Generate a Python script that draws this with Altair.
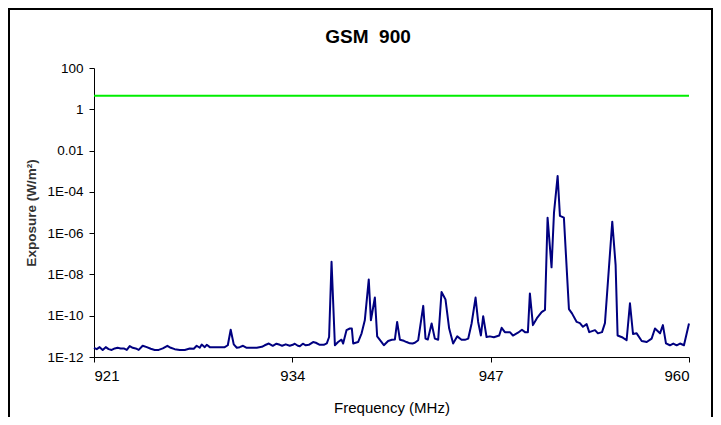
import altair as alt
import pandas as pd

# Spectrum (frequency in MHz, exposure in W/m^2)
freq = [
    921.00, 921.18, 921.37, 921.57, 921.77, 921.96, 922.16, 922.36, 922.55, 922.75,
    922.95, 923.15, 923.34, 923.54, 923.73, 923.93, 924.19, 924.46, 924.72, 924.98,
    925.24, 925.51, 925.81, 926.03, 926.29, 926.62, 926.95, 927.28, 927.54, 927.73,
    927.93, 928.06, 928.26, 928.39, 928.59, 928.92, 929.24, 929.57, 929.77, 929.96,
    930.16, 930.36, 930.55, 930.77, 931.01, 931.34, 931.67, 932.00, 932.19, 932.46,
    932.72, 932.96, 933.18, 933.33, 933.57, 933.83, 934.03, 934.16, 934.36, 934.49,
    934.69, 934.88, 935.08, 935.36, 935.54, 935.80, 936.06, 936.26, 936.41, 936.57,
    936.79, 937.00, 937.22, 937.33, 937.55, 937.77, 937.90, 937.99, 938.31, 938.54,
    938.75, 939.01, 939.15, 939.41, 939.56, 939.85, 940.00, 940.28, 940.52, 940.72,
    940.87, 941.05, 941.31, 941.49, 941.70, 941.88, 942.03, 942.25, 942.58, 942.73,
    942.88, 943.13, 943.34, 943.56, 943.78, 944.04, 944.28, 944.54, 944.81, 945.09,
    945.31, 945.53, 945.75, 946.01, 946.18, 946.36, 946.51, 946.73, 946.95, 947.21,
    947.56, 947.72, 947.93, 948.26, 948.46, 948.79, 949.05, 949.25, 949.44, 949.57,
    949.77, 950.03, 950.34, 950.56, 950.73, 950.99, 951.15, 951.39, 951.54, 951.80,
    952.13, 952.33, 952.64, 952.85, 953.05, 953.29, 953.46, 953.84, 954.03, 954.30,
    954.49, 954.97, 955.19, 955.32, 955.61, 955.91, 956.13, 956.33, 956.57, 956.90,
    957.23, 957.55, 957.77, 958.10, 958.29, 958.49, 958.75, 958.97, 959.19, 959.41,
    959.67, 960.00,
]
exposure = [
    2.8e-12, 2.4e-12, 3.0e-12, 2.2e-12, 3.0e-12, 2.4e-12, 2.2e-12, 2.6e-12, 2.8e-12, 2.6e-12,
    2.6e-12, 2.2e-12, 3.4e-12, 2.8e-12, 2.6e-12, 2.2e-12, 3.5e-12, 3.0e-12, 2.5e-12, 2.2e-12,
    2.2e-12, 2.6e-12, 3.5e-12, 2.8e-12, 2.4e-12, 2.2e-12, 2.2e-12, 2.6e-12, 2.5e-12, 3.5e-12,
    2.8e-12, 4.0e-12, 3.0e-12, 3.9e-12, 3.0e-12, 3.0e-12, 3.0e-12, 3.0e-12, 3.7e-12, 2.1e-11,
    4.1e-12, 2.8e-12, 3.0e-12, 3.5e-12, 2.8e-12, 2.8e-12, 2.8e-12, 3.1e-12, 3.7e-12, 4.5e-12,
    3.5e-12, 4.4e-12, 3.9e-12, 3.5e-12, 4.1e-12, 3.5e-12, 3.9e-12, 4.4e-12, 3.5e-12, 3.3e-12,
    4.4e-12, 3.7e-12, 3.9e-12, 5.3e-12, 4.9e-12, 3.9e-12, 3.9e-12, 4.6e-12, 9.3e-12, 4.1e-8,
    3.7e-12, 5.3e-12, 6.9e-12, 4.5e-12, 2.0e-11, 2.4e-11, 2.4e-11, 4.5e-12, 5.3e-12, 1.4e-11,
    6.0e-11, 5.7e-9, 6.0e-11, 7.6e-10, 1.0e-11, 5.3e-12, 3.7e-12, 6.0e-12, 6.8e-12, 7.0e-12,
    5.0e-11, 6.9e-12, 6.1e-12, 5.3e-12, 4.6e-12, 4.5e-12, 4.9e-12, 6.5e-12, 3.0e-10, 7.8e-12,
    7.0e-12, 4.2e-11, 7.8e-12, 6.9e-12, 1.4e-9, 6.1e-10, 2.4e-11, 4.5e-12, 1.0e-11, 6.9e-12,
    6.8e-12, 7.8e-12, 4.2e-11, 7.6e-10, 5.0e-11, 1.1e-11, 9.5e-11, 9.3e-12, 1.0e-11, 9.1e-12,
    1.1e-11, 2.6e-11, 1.6e-11, 1.6e-11, 1.1e-11, 1.5e-11, 2.1e-11, 1.6e-11, 1.6e-11, 1.2e-9,
    3.5e-11, 7.6e-11, 1.5e-10, 1.9e-10, 5.6e-6, 2.2e-8, 9.5e-6, 5.9e-4, 6.9e-6, 5.6e-6,
    2.1e-10, 1.3e-10, 5.0e-11, 4.4e-11, 2.9e-11, 3.9e-11, 1.6e-11, 2.0e-11, 1.4e-11, 1.6e-11,
    4.4e-11, 3.6e-6, 2.8e-8, 1.1e-11, 9.1e-12, 6.5e-12, 4.0e-10, 1.3e-11, 1.4e-11, 6.0e-12,
    5.3e-12, 7.8e-12, 2.4e-11, 1.4e-11, 3.5e-11, 4.6e-12, 3.7e-12, 4.5e-12, 3.7e-12, 4.5e-12,
    3.7e-12, 4.2e-11,
]

# Reference level line (W/m^2)
limit_freq = [921, 960]
limit_level = [4.5, 4.5]

chart_title = "GSM\u00a0\u00a0900"
x_title = "Frequency (MHz)"
y_title = "Exposure (W/m²)"
x_ticks = [921, 934, 947, 960]
y_ticks = [1e-12, 1e-10, 1e-8, 1e-6, 1e-4, 1e-2, 1, 100]
y_tick_labels = ["1E-12", "1E-10", "1E-08", "1E-06", "1E-04", "0.01", "1", "100"]

FONT = "Liberation Sans"

spec_df = pd.DataFrame({"freq": freq, "exposure": exposure})
limit_df = pd.DataFrame({"freq": limit_freq, "exposure": limit_level})

label_expr = (
    "[" + ",".join(f"'{s}'" for s in y_tick_labels) + "]"
    "[round((log(datum.value)/LN10 + 12)/2)]"
)

x_enc = alt.X(
    "freq:Q",
    scale=alt.Scale(domain=[921, 960], nice=False, zero=False),
    axis=alt.Axis(
        values=x_ticks, title=x_title, grid=False, format="d",
        labelFontSize=15, labelPadding=6, tickSize=5,
        titleFontSize=15, titleFontWeight="normal", titleY=55,
        titleBaseline="alphabetic",
    ),
)
y_enc = alt.Y(
    "exposure:Q",
    scale=alt.Scale(type="log", domain=[1e-12, 100], nice=False),
    axis=alt.Axis(
        values=y_ticks, labelExpr=label_expr, title=y_title, grid=False,
        labelFontSize=13.5, labelPadding=6, tickSize=5,
        titleFontSize=13.5, titleFontWeight="bold", titleColor="#333333",
        titleX=-63, titleBaseline="middle",
    ),
)

spectrum = alt.Chart(spec_df).mark_line(
    color="#000080", strokeWidth=2, strokeJoin="round"
).encode(x=x_enc, y=y_enc)

limit = alt.Chart(limit_df).mark_line(
    color="#00ee00", strokeWidth=2
).encode(x="freq:Q", y="exposure:Q")

frame = alt.Chart(pd.DataFrame({"k": [0]})).mark_rect(
    fillOpacity=0, stroke="black", strokeWidth=2, clip=False
).encode(
    x=alt.value(-85), x2=alt.value(618), y=alt.value(-59), y2=alt.value(360)
)

title_mark = alt.Chart(pd.DataFrame({"t": [chart_title]})).mark_text(
    fontSize=19, fontWeight="bold", font=FONT, color="black",
    align="center", baseline="alphabetic",
).encode(text="t:N", x=alt.value(274), y=alt.value(-25))

chart = alt.layer(frame, limit, spectrum, title_mark).properties(
    width=595,
    height=289,
    padding={"left": 86, "top": 60, "right": 24, "bottom": 60},
    autosize=alt.AutoSizeParams(type="none"),
).configure(
    font=FONT,
).configure_view(
    strokeOpacity=0,
).configure_axis(
    domainColor="black", tickColor="black", labelColor="black",
    labelFont=FONT, titleFont=FONT, domainWidth=1, tickWidth=1,
)

chart.save("out.html", embed_options={"renderer": "svg", "actions": False})
